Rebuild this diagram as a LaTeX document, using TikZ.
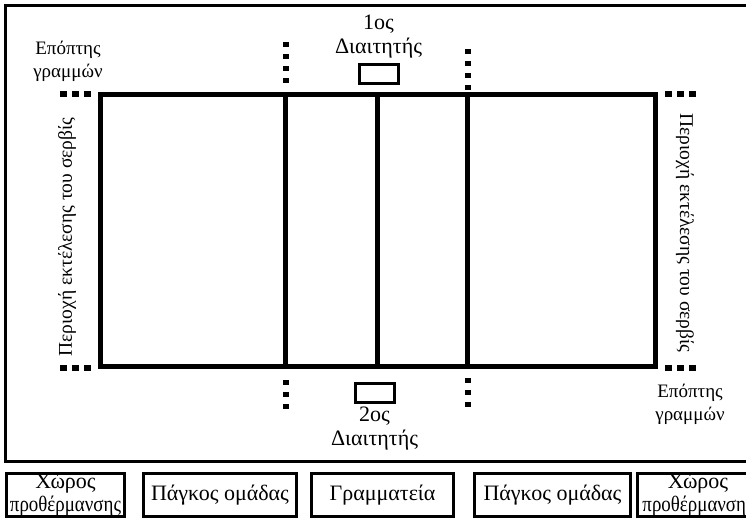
\documentclass[tikz,border=0pt]{standalone}
\usepackage{fontspec}
\setmainfont{Liberation Serif}
\usetikzlibrary{positioning}

\begin{document}
\begin{tikzpicture}[x=1pt,y=-1pt,
    court/.style={line width=5pt},
    vdots/.style={line width=6pt,dash pattern=on 5pt off 7pt},
    hdots/.style={line width=6pt,dash pattern=on 7pt off 5pt},
    txt/.style={font=\fontsize{19}{23}\selectfont,align=center,inner sep=0pt},
    bigtxt/.style={font=\fontsize{22}{24}\selectfont,align=center,inner sep=0pt},
    refbox/.style={draw,line width=3pt,minimum width=39pt,minimum height=19pt,inner sep=0pt},
    zone/.style={draw,line width=3pt,minimum height=43pt,inner sep=0pt,font=\fontsize{22}{23}\selectfont,align=center}]
        \clip (0,0) rectangle (746,519);
        \draw[line width=3pt] (5,6) rectangle (770,461);
        \draw[court] (100,94) rectangle (655,366);
        \foreach \x in {285.5,377.5,467.5} \draw[court] (\x,94) -- (\x,366);
        \draw[vdots] (285.5,42) -- (285.5,89);
        \draw[vdots] (285.5,380) -- (285.5,412);
        \draw[vdots] (467.5,49) -- (467.5,91);
        \draw[vdots] (467.5,378) -- (467.5,410);
        \foreach \y in {94,368} {
            \draw[hdots] (60,\y) -- (91,\y);
            \draw[hdots] (665,\y) -- (696,\y);
        }
        \node[txt] (judgeA) at (68,61) {Επόπτης\\γραμμών};
        \node[txt] (judgeB) at (690,404) {Επόπτης\\γραμμών};
        \node[txt,font=\fontsize{19.5}{23}\selectfont,rotate=90] (serveA) at (67,237) {Περιοχή εκτέλεσης του σερβίς};
        \node[txt,font=\fontsize{19.5}{23}\selectfont,rotate=-90] (serveB) at (685,233) {Περιοχή εκτέλεσης του σερβίς};
        \node[refbox] (refA) at (378.5,74) {};
        \node[bigtxt,above=5pt of refA] (refAtxt) {1ος\\Διαιτητής};
        \node[refbox] (refB) at (374.5,392.5) {};
        \node[bigtxt,below=3pt of refB] (refBtxt) {2ος\\Διαιτητής};
        \node[zone,minimum width=118pt] (warmA) at (65.5,495) {Χώρος\\\scalebox{0.86}[1]{προθέρμανσης}};
        \node[zone,minimum width=153pt] (benchA) at (220,495) {Πάγκος ομάδας};
        \node[zone,minimum width=142pt] (scorer) at (382.5,495) {Γραμματεία};
        \node[zone,minimum width=156pt] (benchB) at (552.5,495) {Πάγκος ομάδας};
        \node[zone,minimum width=121pt] (warmB) at (698,495) {Χώρος\\\scalebox{0.86}[1]{προθέρμανσης}};
\end{tikzpicture}
\end{document}
